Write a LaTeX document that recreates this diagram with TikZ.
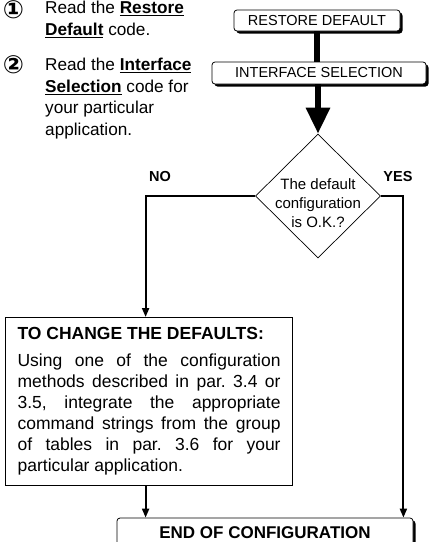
\documentclass[tikz,border=0pt]{standalone}
\usepackage{fontspec}
\setmainfont{Liberation Sans}
\newfontfamily\circfont{DejaVu Sans}[BoldFont={DejaVu Sans Bold}]
\usetikzlibrary{shapes.geometric,shadows,arrows.meta}

\tikzset{
  titlebox/.style={draw, line width=0.8pt, rounded corners=3pt, fill=white, inner sep=0pt,
    drop shadow={shadow xshift=2.5pt, shadow yshift=-2.5pt, opacity=1, fill=black},
    font=\fontsize{14.5}{17}\selectfont},
  thickline/.style={line width=6pt},
  flow/.style={line width=2pt, -{Triangle[width=7pt,length=9pt]}},
  instr/.style={anchor=north west, inner sep=0pt, align=left, font=\fontsize{17.2}{21.5}\selectfont},
  stepnum/.style={inner sep=0pt, font=\circfont\bfseries\fontsize{25}{25}\selectfont},
  answer/.style={font=\bfseries\fontsize{14.5}{17}\selectfont}
}

\begin{document}
\frenchspacing
\begin{tikzpicture}[x=1pt, y=-1pt]
  \useasboundingbox (0,0) rectangle (434,542);

  % steps on the left
  \node[stepnum] (n1) at (13.5,10) {①};
  \node[instr] (read1) at (45,1) {Read the \underline{\textbf{Restore}}\\\underline{\textbf{Default}} code.};
  \node[stepnum] (n2) at (13.5,65) {②};
  \node[instr] (read2) at (45,58) {Read the \underline{\textbf{Interface}}\\\underline{\textbf{Selection}} code for\\your particular\\application.};

  \node[titlebox, minimum width=166pt, minimum height=21pt] (restore) at (317,20.5) {RESTORE DEFAULT};
  \node[titlebox, minimum width=214pt, minimum height=22pt] (iface) at (319,73) {INTERFACE SELECTION};

  \node[draw, diamond, minimum width=125pt, minimum height=124pt, inner sep=0pt, line width=0.7pt] (dia) at (318,196) {};
  \node[align=center, inner sep=0pt, font=\fontsize{15}{19}\selectfont] (dtext) at (318,203) {The default\\configuration\\is O.K.?};

  \node[answer] (no) at (160,177) {NO};
  \node[answer] (yes) at (398,177) {YES};

  \node[draw, line width=1.2pt, anchor=north west, minimum width=287pt, minimum height=168pt,
    text width=263pt, inner xsep=12pt, align=justify, font=\fontsize{17.5}{21}\selectfont] (change) at (5,317)
    {\textbf{TO CHANGE THE DEFAULTS:}\\[6pt]
     Using one of the configuration\linebreak methods described in par. 3.4 or\linebreak
     3.5, integrate the appropriate\linebreak command strings from the group\linebreak
     of tables in par. 3.6 for your\linebreak particular application.};

  \node[titlebox, font=\bfseries\fontsize{17}{20}\selectfont, minimum width=296pt, minimum height=30pt] (finish) at (265,533) {END OF CONFIGURATION};

  % connectors
  \draw[thickline] (restore.south) -- (restore.south |- iface.north);
  \draw[thickline, -{Triangle[width=23pt,length=26pt]}] (iface.south -| dia.north) -- (dia.north);
  \draw[flow] (dia.west) -| ([xshift=-3.5pt]change.north);
  \coordinate (nox) at ([xshift=-3.5pt]change.south);
  \draw[flow] (nox) -- (nox |- finish.north);
  \draw[flow] (dia.east) -| ([xshift=-10pt]finish.north east);
\end{tikzpicture}
\end{document}
